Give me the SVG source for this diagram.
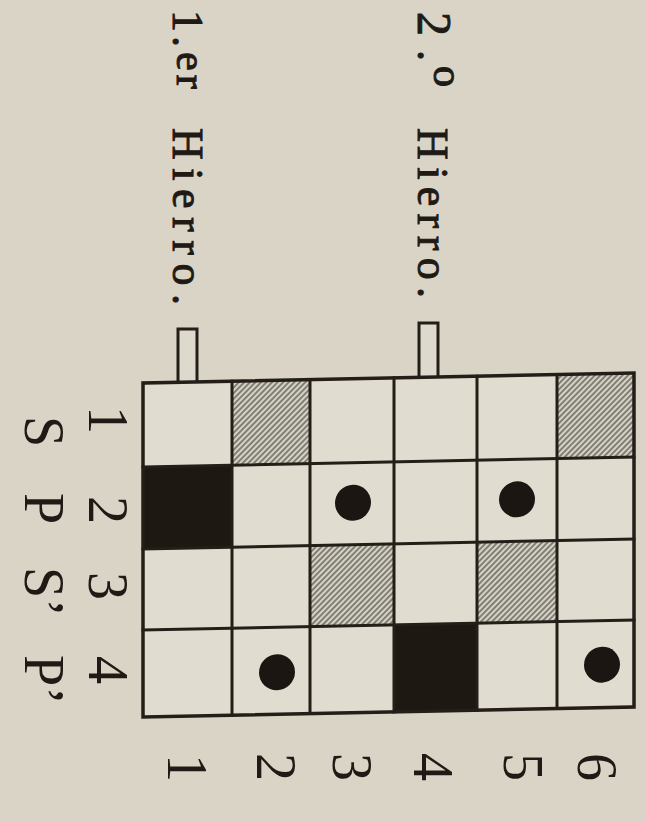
<svg xmlns="http://www.w3.org/2000/svg" width="646" height="821" viewBox="0 0 646 821">
<style>
.txt{font-family:"Liberation Serif","DejaVu Serif",serif;fill:#1f1a15}
.lbl{font-size:56px}
.hier{font-size:44px;stroke:#1f1a15;stroke-width:1}
.cell{fill:#e0dccf}
.hat{fill:url(#hatch)}
.blk{fill:#1e1813}
.line{stroke:#231e18;stroke-width:3;fill:none;stroke-linecap:square}
.dot{fill:#1c1612}
.pin{fill:#ddd9cc;stroke:#231e18;stroke-width:3}
</style>
<defs>
<pattern id="hatch" patternUnits="userSpaceOnUse" width="4" height="4" patternTransform="rotate(45)">
<rect width="4" height="4" fill="#d6d3c6"/>
<line x1="1" y1="0" x2="1" y2="4" stroke="#47443d" stroke-width="1.2"/>
</pattern>
</defs>
<rect width="646" height="821" fill="#d9d4c5"/>

<g id="labels-top">
<text class="txt hier" transform="translate(173,0) rotate(90)"><tspan x="10">1</tspan><tspan x="36">.</tspan><tspan x="52" font-size="42" dy="-4" letter-spacing="4">er</tspan></text>
<text class="txt hier" transform="translate(173,128) rotate(90)" textLength="177" lengthAdjust="spacing">Hierro.</text>
<text class="txt hier" transform="translate(418,0) rotate(90)"><tspan x="12" font-size="48">2</tspan><tspan x="50">.</tspan><tspan x="66" font-size="42" dy="-16">o</tspan></text>
<text class="txt hier" transform="translate(418,128) rotate(90)" textLength="170" lengthAdjust="spacing">Hierro.</text>
</g>

<g id="pins">
<path class="pin" d="M178,381 V329 H197 V381"/>
<path class="pin" d="M419,376 V323 H438 V376"/>
</g>

<g id="grid" transform="translate(388,545) skewY(-1.17) translate(-388,-545)">
<rect class="cell" x="143" y="378" width="491" height="334"/>
<rect class="hat" x="232" y="378" width="78" height="84"/>
<rect class="hat" x="557" y="378" width="77" height="84"/>
<rect class="blk" x="143" y="462" width="89" height="82"/>
<rect class="hat" x="310" y="544" width="84" height="81"/>
<rect class="hat" x="477" y="544" width="80" height="81"/>
<rect class="blk" x="394" y="625" width="83" height="87"/>
<circle class="dot" cx="353" cy="502" r="18"/>
<circle class="dot" cx="517" cy="502" r="18"/>
<circle class="dot" cx="277" cy="670" r="18"/>
<circle class="dot" cx="602" cy="669" r="18"/>
<g class="line">
<line x1="143" y1="462" x2="634" y2="462"/>
<line x1="143" y1="544" x2="634" y2="544"/>
<line x1="143" y1="625" x2="634" y2="625"/>
<line x1="232" y1="378" x2="232" y2="712"/>
<line x1="310" y1="378" x2="310" y2="712"/>
<line x1="394" y1="378" x2="394" y2="712"/>
<line x1="477" y1="378" x2="477" y2="712"/>
<line x1="557" y1="378" x2="557" y2="712"/>
<rect x="143" y="378" width="491" height="334" stroke-width="3.5"/>
</g>
</g>

<g id="labels-left">
<text class="txt lbl" text-anchor="middle" transform="translate(89,420) rotate(90)">1</text>
<text class="txt lbl" text-anchor="middle" transform="translate(89,510) rotate(90)">2</text>
<text class="txt lbl" text-anchor="middle" transform="translate(89,586) rotate(90)">3</text>
<text class="txt lbl" text-anchor="middle" transform="translate(89,670) rotate(90)">4</text>
<text class="txt lbl" transform="translate(25,416) rotate(90)">S</text>
<text class="txt lbl" transform="translate(25,493) rotate(90)">P</text>
<text class="txt lbl" transform="translate(25,567) rotate(90)">S’</text>
<text class="txt lbl" transform="translate(25,655) rotate(90)">P’</text>
</g>

<g id="labels-bottom">
<text class="txt lbl" text-anchor="middle" transform="translate(168,768) rotate(90)">1</text>
<text class="txt lbl" text-anchor="middle" transform="translate(257,767) rotate(90)">2</text>
<text class="txt lbl" text-anchor="middle" transform="translate(333,767) rotate(90)">3</text>
<text class="txt lbl" text-anchor="middle" transform="translate(414,767) rotate(90)">4</text>
<text class="txt lbl" text-anchor="middle" transform="translate(504,767) rotate(90)">5</text>
<text class="txt lbl" text-anchor="middle" transform="translate(578,767) rotate(90)">6</text>
</g>
</svg>
